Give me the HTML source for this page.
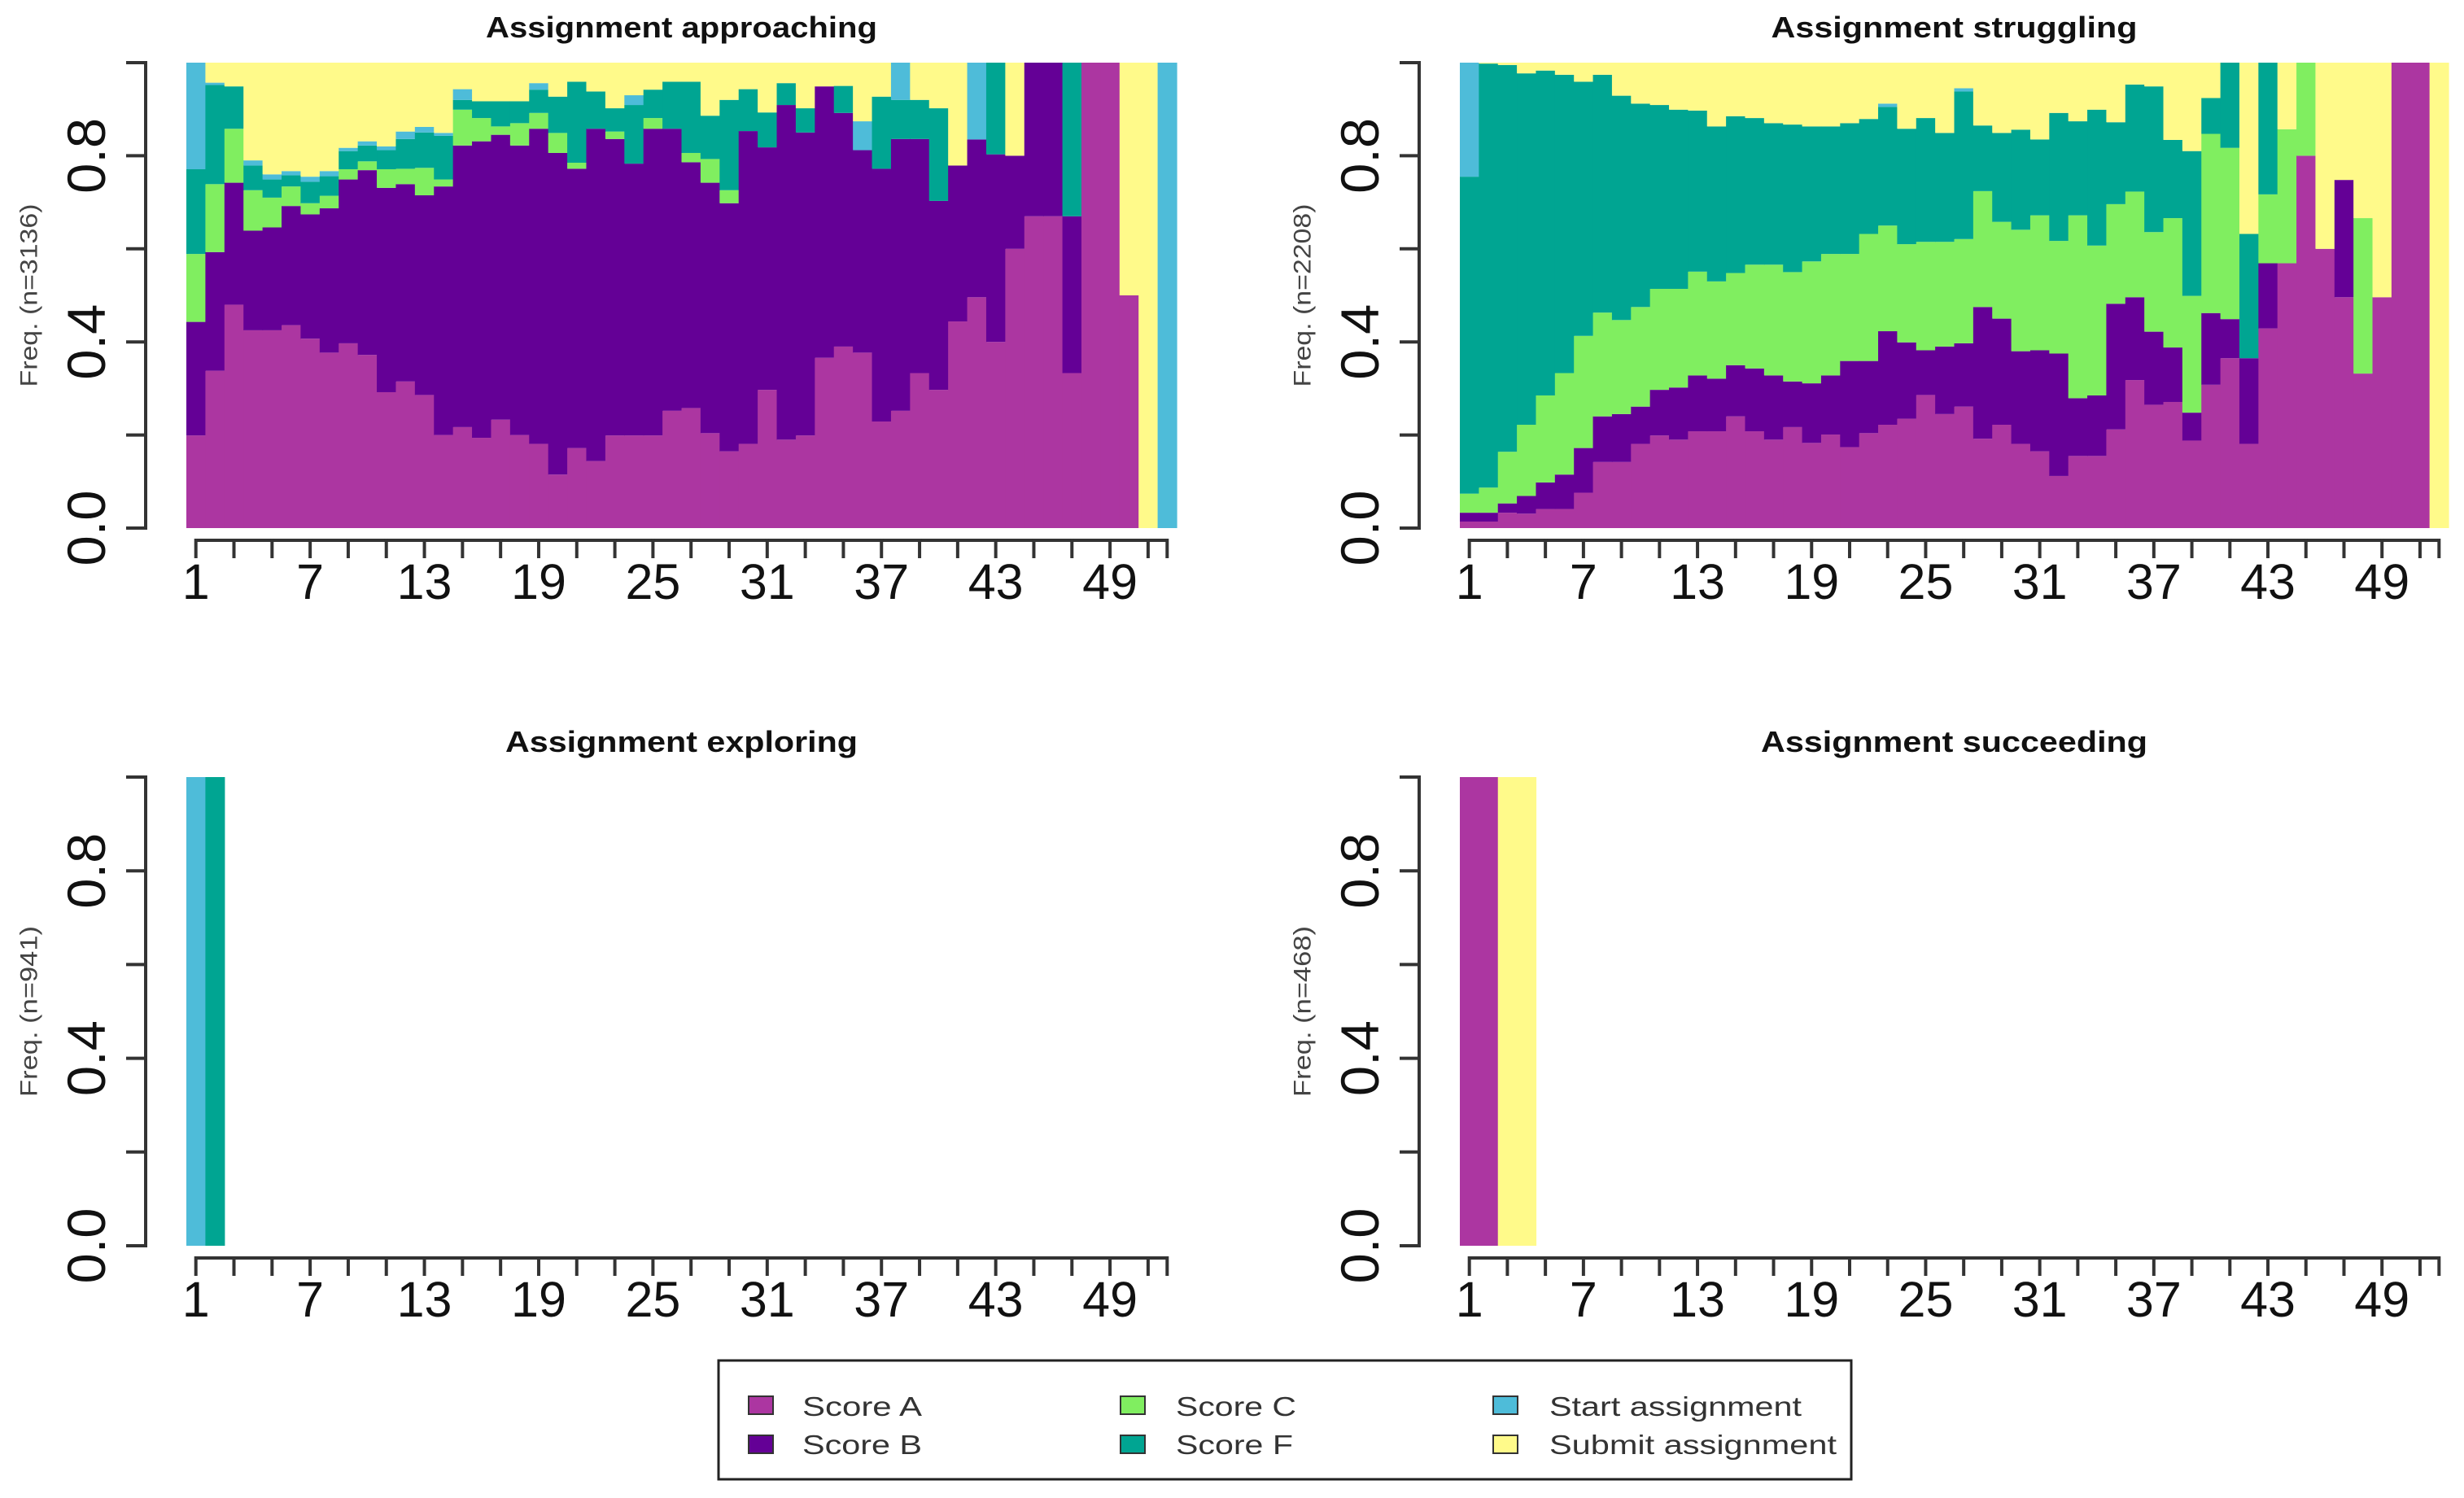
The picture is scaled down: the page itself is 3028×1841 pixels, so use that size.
<!DOCTYPE html>
<html><head><meta charset="utf-8"><style>
html,body{margin:0;padding:0;background:#fff;}
svg{display:block;font-family:"Liberation Sans",sans-serif;}
</style></head><body>
<svg id="chart" width="3028" height="1841" viewBox="0 0 3028 1841" xmlns="http://www.w3.org/2000/svg">
<rect x="0" y="0" width="3028" height="1841" fill="#ffffff"/>
<g id="panels"></g>
<g id="legend">
  <rect x="883" y="1672" width="1392" height="146" fill="#fff" stroke="#222" stroke-width="3"/>
  <g><rect x="920" y="1716" width="30" height="22" fill="#AC36A1" stroke="#333" stroke-width="2"/><text x="986" y="1740" font-size="33" fill="#333" textLength="147" lengthAdjust="spacingAndGlyphs">Score A</text></g>
  <g><rect x="920" y="1764" width="30" height="22" fill="#640096" stroke="#333" stroke-width="2"/><text x="986" y="1787" font-size="33" fill="#333" textLength="147" lengthAdjust="spacingAndGlyphs">Score B</text></g>
  <g><rect x="1377" y="1716" width="30" height="22" fill="#80EE60" stroke="#333" stroke-width="2"/><text x="1445" y="1740" font-size="33" fill="#333" textLength="148" lengthAdjust="spacingAndGlyphs">Score C</text></g>
  <g><rect x="1377" y="1764" width="30" height="22" fill="#00A592" stroke="#333" stroke-width="2"/><text x="1445" y="1787" font-size="33" fill="#333" textLength="144" lengthAdjust="spacingAndGlyphs">Score F</text></g>
  <g><rect x="1835" y="1716" width="30" height="22" fill="#4EBCD9" stroke="#333" stroke-width="2"/><text x="1904" y="1740" font-size="33" fill="#333" textLength="310" lengthAdjust="spacingAndGlyphs">Start assignment</text></g>
  <g><rect x="1835" y="1764" width="30" height="22" fill="#FFFA8A" stroke="#333" stroke-width="2"/><text x="1904" y="1787" font-size="33" fill="#333" textLength="353" lengthAdjust="spacingAndGlyphs">Submit assignment</text></g>
</g>
</svg>
<script>
// Cumulative frequencies (stack tops) per position; order A, B, C, F, Start; Submit fills the rest to 1.
const approachingCumA = [.199,.338,.48,.425,.425,.436,.407,.377,.397,.372,.292,.315,.286,.2,.217,.194,.233,.2,.181,.115,.172,.144,.199,.199,.199,.252,.258,.204,.165,.181,.297,.19,.199,.366,.39,.377,.229,.252,.333,.297,.444,.496,.4,.6,.67,.67,.333,1,1,.5,0,0];
const approachingCumB = [.443,.593,.742,.639,.646,.692,.674,.687,.749,.769,.731,.739,.715,.734,.822,.831,.845,.822,.858,.806,.772,.858,.836,.783,.858,.858,.786,.742,.698,.853,.818,.909,.85,.949,.892,.812,.772,.836,.836,.703,.779,.835,.803,.8,1,1,.67,1,1,.5,0,0];
const approachingCumC = [.589,.739,.858,.726,.71,.734,.698,.714,.771,.788,.771,.772,.774,.749,.899,.881,.863,.87,.892,.849,.785,.858,.852,.783,.881,.858,.806,.793,.726,.853,.818,.909,.85,.949,.892,.812,.772,.836,.836,.703,.779,.835,.803,.8,1,1,.67,1,1,.5,0,0];
const approachingCumF = [.771,.952,.949,.779,.749,.758,.744,.756,.81,.822,.812,.836,.85,.843,.92,.917,.917,.917,.942,.927,.959,.938,.902,.909,.942,.959,.959,.886,.92,.943,.893,.956,.902,.949,.95,.812,.927,.92,.92,.902,.779,.835,1,.8,1,1,1,1,1,.5,0,0];
const approachingCumStart = [1,.957,.949,.79,.76,.767,.755,.767,.817,.831,.82,.852,.862,.849,.943,.917,.917,.917,.956,.927,.959,.938,.902,.93,.942,.959,.959,.886,.92,.943,.893,.956,.902,.949,.95,.874,.927,1,.92,.902,.779,1,1,.8,1,1,1,1,1,.5,0,1];

const strugglingCumA = [.014,.014,.033,.031,.041,.041,.076,.142,.142,.181,.199,.19,.208,.208,.24,.208,.19,.217,.183,.201,.174,.204,.222,.235,.286,.245,.261,.192,.222,.181,.165,.112,.155,.155,.212,.318,.265,.271,.188,.308,.365,.181,.429,.569,.8,.6,.496,.332,.496,1,1,0];
const strugglingCumB = [.033,.033,.053,.069,.098,.115,.172,.24,.245,.261,.297,.302,.328,.321,.35,.343,.328,.315,.311,.328,.359,.359,.423,.399,.382,.39,.397,.475,.45,.38,.382,.375,.279,.285,.482,.496,.422,.388,.248,.462,.449,.365,.569,.569,.8,.6,.748,.332,.496,1,1,0];
const strugglingCumC = [.074,.087,.164,.222,.285,.333,.413,.463,.447,.475,.514,.514,.551,.53,.548,.566,.566,.55,.573,.589,.589,.632,.65,.61,.615,.615,.621,.724,.658,.641,.672,.617,.672,.607,.696,.723,.636,.666,.499,.847,.817,.365,.717,.857,1,.6,.748,.666,.496,1,1,0];
const strugglingCumF = [.755,.998,.995,.977,.983,.974,.959,.974,.929,.912,.909,.899,.897,.863,.885,.881,.87,.867,.863,.863,.87,.879,.905,.858,.881,.849,.938,.865,.849,.856,.835,.892,.874,.899,.872,.953,.949,.834,.81,.924,1,.632,1,.857,1,.6,.748,.666,.496,1,1,0];
const strugglingCumStart = [1,.998,.995,.977,.983,.974,.959,.974,.929,.912,.909,.899,.897,.863,.885,.881,.87,.867,.863,.863,.87,.879,.912,.858,.881,.849,.945,.865,.849,.856,.835,.892,.874,.899,.872,.953,.949,.834,.81,.924,1,.632,1,.857,1,.6,.748,.666,.496,1,1,0];

const exploringCumA = [0,0];
const exploringCumB = [0,0];
const exploringCumC = [0,0];
const exploringCumF = [0,1];
const exploringCumStart = [1,1];

const succeedingCumA = [1,1,0,0];
const succeedingCumB = [1,1,0,0];
const succeedingCumC = [1,1,0,0];
const succeedingCumF = [1,1,0,0];
const succeedingCumStart = [1,1,0,0];

const xTickLabels = ["1","7","13","19","25","31","37","43","49"];
const yTickLabels = ["0.0","0.4","0.8"];
const nPositions = 52;

const SVGNS = "http://www.w3.org/2000/svg";
const stateColors = ["#AC36A1","#640096","#80EE60","#00A592","#4EBCD9","#FFFA8A"];
const stateNames = ["score-a","score-b","score-c","score-f","start-assignment","submit-assignment"];

function mk(tag, attrs, parent){
  const e = document.createElementNS(SVGNS, tag);
  for (const k in attrs) e.setAttribute(k, attrs[k]);
  parent.appendChild(e);
  return e;
}

const panelsDef = [
  {id:"approaching", title:"Assignment approaching", titleLen:481, n:"Freq. (n=3136)", x0:229, x1:1446, y0:77, y1:649, cum:[approachingCumA,approachingCumB,approachingCumC,approachingCumF,approachingCumStart]},
  {id:"struggling", title:"Assignment struggling", titleLen:450, n:"Freq. (n=2208)", x0:1794, x1:3009, y0:77, y1:649, cum:[strugglingCumA,strugglingCumB,strugglingCumC,strugglingCumF,strugglingCumStart]},
  {id:"exploring", title:"Assignment exploring", titleLen:433, n:"Freq. (n=941)", x0:229, x1:1446, y0:955, y1:1531, cum:[exploringCumA,exploringCumB,exploringCumC,exploringCumF,exploringCumStart]},
  {id:"succeeding", title:"Assignment succeeding", titleLen:475, n:"Freq. (n=468)", x0:1794, x1:3009, y0:955, y1:1531, cum:[succeedingCumA,succeedingCumB,succeedingCumC,succeedingCumF,succeedingCumStart]}
];

const root = document.getElementById("panels");
panelsDef.forEach(p => {
  const g = mk("g", {}, root);
  
  
  const bw = (p.x1 - p.x0) / nPositions;
  const xPos = i => p.x0 + i * bw;
  const xCenter = v => p.x0 + (v - 0.5) * bw;
  const yScale = v => p.y1 - v * (p.y1 - p.y0);

  const bars = mk("g", {}, g);
  
  
  const len = p.cum[0].length;
  for (let i = 0; i < len; i++) {
    let prev = 0;
    const tops = p.cum.map(a => a[i]).concat([1]);
    for (let s = 0; s < 6; s++) {
      const top = tops[s];
      if (top - prev > 0.0005) {
        const r = mk("rect", {x: xPos(i).toFixed(2), y: yScale(top).toFixed(2), width: (bw + 0.6).toFixed(2), height: (yScale(prev) - yScale(top)).toFixed(2), fill: stateColors[s]}, bars);
        
        
      }
      prev = Math.max(prev, top);
    }
  }

  const t = mk("text", {x: (p.x0 + p.x1) / 2, y: p.y0 - 31, "font-size": 36, "font-weight": "bold", "text-anchor": "middle", fill: "#111", textLength: p.titleLen, lengthAdjust: "spacingAndGlyphs"}, g);
  t.textContent = p.title;
  
  

  const ax = p.x0 - 50;
  const yl = mk("line", {x1: ax, x2: ax, y1: yScale(0), y2: yScale(1), stroke: "#333", "stroke-width": 4}, g);
  
  
  for (let k = 0; k <= 5; k++) {
    const tk = mk("line", {x1: ax - 24, x2: ax + 2, y1: yScale(k * 0.2), y2: yScale(k * 0.2), stroke: "#333", "stroke-width": 4}, g);
    
    
  }
  yTickLabels.forEach(lbl => {
    const v = parseFloat(lbl);
    const cx = p.x0 - 123, cy = yScale(v);
    const tl = mk("text", {x: cx, y: cy, "font-size": 66, "text-anchor": "middle", "dominant-baseline": "central", fill: "#111", transform: "rotate(-90 " + cx + " " + cy + ")", textLength: 93, lengthAdjust: "spacingAndGlyphs"}, g);
    tl.textContent = lbl;
    
    
  });
  const fx = p.x0 - 193, fy = (p.y0 + p.y1) / 2;
  const fl = mk("text", {x: fx, y: fy, "font-size": 30, "text-anchor": "middle", "dominant-baseline": "central", fill: "#444", transform: "rotate(-90 " + fx + " " + fy + ")", textLength: p.n.length > 13 ? 225 : 210, lengthAdjust: "spacingAndGlyphs"}, g);
  fl.textContent = p.n;
  
  

  const axy = p.y1 + 15;
  const xl = mk("line", {x1: xCenter(1), x2: xCenter(nPositions), y1: axy, y2: axy, stroke: "#333", "stroke-width": 4}, g);
  
  
  const tickPos = [];
  for (let v = 1; v <= nPositions; v += 2) tickPos.push(v);
  tickPos.push(nPositions);
  tickPos.forEach(v => {
    const tk = mk("line", {x1: xCenter(v), x2: xCenter(v), y1: axy - 2, y2: axy + 22, stroke: "#333", "stroke-width": 4}, g);
    
    
  });
  xTickLabels.forEach(lbl => {
    const v = parseInt(lbl, 10);
    const tl = mk("text", {x: xCenter(v), y: p.y1 + 87, "font-size": 61, "text-anchor": "middle", fill: "#111"}, g);
    tl.textContent = lbl;
    
    
  });
});
</script>
</body></html>
